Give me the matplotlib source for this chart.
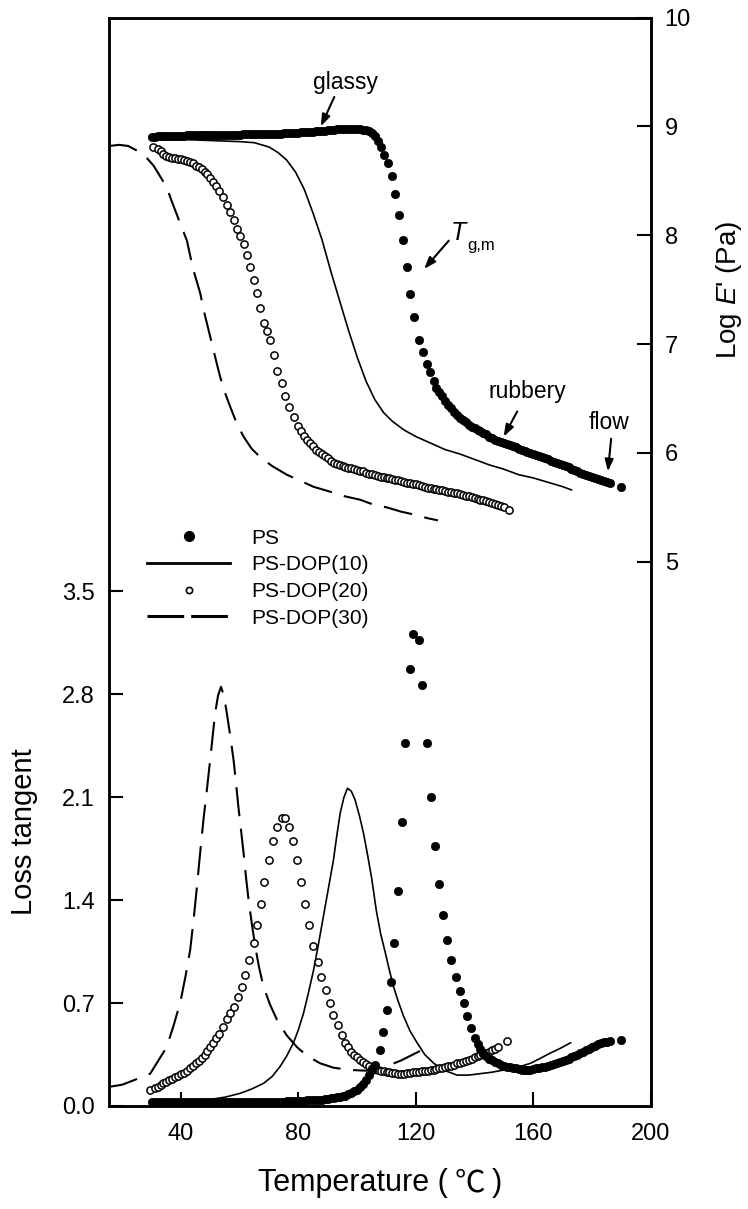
import matplotlib
matplotlib.use('Agg')
import matplotlib.pyplot as plt
from matplotlib.lines import Line2D
from matplotlib.offsetbox import TextArea, HPacker, AnchoredOffsetbox

plt.rcParams['font.family'] = ['Liberation Sans', 'Noto Sans CJK KR', 'DejaVu Sans']
plt.rcParams['mathtext.fontset'] = 'custom'
plt.rcParams['mathtext.rm'] = 'Liberation Sans'
plt.rcParams['mathtext.it'] = 'Liberation Sans:italic'

# ---- storage modulus, log E' (Pa), right axis ----
ps_T_E = [30, 31, 32, 33, 34, 35, 36, 37, 38, 39, 40, 41, 42, 43, 44, 45, 46, 47, 48, 49,
          50, 51, 52, 53, 54, 55, 56, 57, 58, 59, 60, 61, 62, 63, 64, 65, 66, 67, 68, 69,
          70, 71, 72, 73, 74, 75, 76, 77, 78, 79, 80, 81, 82, 83, 84, 85, 86, 87, 88, 89,
          90, 91, 92, 93, 94, 95, 96, 97, 98, 99, 100, 101, 102, 103, 104,
          105, 106, 107, 108, 109,
          110.4, 111.7, 113.0, 114.3, 115.5, 116.9, 118.1, 119.2, 120.9, 122.4, 123.8,
          124.8, 126, 127,
          128, 129, 130, 131, 132, 133, 134, 135, 136, 137, 138, 139, 140, 141, 142, 143,
          144, 145, 146, 147, 148, 149, 150, 151, 152, 153, 154, 155, 156, 157, 158, 159,
          160, 161, 162, 163, 164, 165, 166, 167, 168, 169, 170, 171, 172, 173, 174, 175,
          176, 177, 178, 179, 180, 181, 182, 183, 184, 185, 186, 189.9]
ps_E = [8.90, 8.90, 8.91, 8.91, 8.91, 8.91, 8.91, 8.91, 8.91, 8.91, 8.91, 8.91, 8.92, 8.92,
        8.92, 8.92, 8.92, 8.92, 8.92, 8.92, 8.92, 8.92, 8.92, 8.92, 8.92, 8.92, 8.92, 8.92,
        8.92, 8.92, 8.92, 8.93, 8.93, 8.93, 8.93, 8.93, 8.93, 8.93, 8.93, 8.93, 8.93, 8.93,
        8.93, 8.93, 8.93, 8.94, 8.94, 8.94, 8.94, 8.94, 8.94, 8.95, 8.95, 8.95, 8.95, 8.95,
        8.96, 8.96, 8.96, 8.96, 8.97, 8.97, 8.97, 8.98, 8.98, 8.98, 8.98, 8.98, 8.98, 8.98,
        8.98, 8.98, 8.97, 8.97, 8.96,
        8.94, 8.91, 8.87, 8.81, 8.74,
        8.66, 8.54, 8.38, 8.19, 7.96, 7.71, 7.46, 7.25, 7.04, 6.93, 6.82,
        6.74, 6.66, 6.60,
        6.56, 6.52, 6.48, 6.44, 6.41, 6.38, 6.35, 6.32, 6.30, 6.28, 6.26, 6.24, 6.23, 6.21,
        6.20, 6.18, 6.17, 6.15, 6.14, 6.12, 6.11, 6.10, 6.09, 6.08, 6.07, 6.06, 6.05, 6.04,
        6.03, 6.02, 6.01, 6.00, 5.99, 5.98, 5.97, 5.96, 5.95, 5.94, 5.93, 5.92, 5.91, 5.90,
        5.89, 5.88, 5.87, 5.85, 5.84, 5.83, 5.82, 5.81, 5.80, 5.79, 5.78, 5.77, 5.76, 5.75,
        5.74, 5.73, 5.72, 5.69]

d10_T_E = [30, 40, 50, 60, 65, 70, 73, 76, 79, 82, 85, 88, 91, 94, 97, 100, 103, 106, 109,
           112, 116, 120, 125, 130, 135, 140, 145, 150, 155, 160, 165, 170, 173]
d10_E = [8.88, 8.88, 8.87, 8.86, 8.85, 8.81, 8.76, 8.69, 8.58, 8.42, 8.20, 7.96, 7.67, 7.40,
         7.13, 6.88, 6.66, 6.49, 6.37, 6.29, 6.21, 6.15, 6.09, 6.03, 5.99, 5.94, 5.89, 5.85,
         5.80, 5.77, 5.73, 5.69, 5.66]

d20_T_E = [30.4, 32, 33, 34, 35, 36, 37, 38, 39, 40, 41, 42, 43, 44, 45, 46, 47, 48, 49, 50,
           51, 52, 53, 54.4, 55.6, 56.8, 57.9, 59.1, 60.2, 61.3, 62.4, 63.6, 64.7, 65.8, 66.9,
           68.1, 69.2, 70.4, 71.5, 72.7, 74.3, 75.4, 76.7, 78.4, 80, 81, 82, 83, 84, 85,
           86, 87, 88, 89, 90, 91, 92, 93, 94, 95, 96, 97, 98, 99, 100, 101, 102, 103, 104,
           105, 106, 107, 108, 109, 110, 111, 112, 113, 114, 115, 116, 117, 118, 119, 120,
           121, 122, 123, 124, 125, 126, 127, 128, 129, 130, 131, 132, 133, 134, 135, 136,
           137, 138, 139, 140, 141, 142, 143, 144, 145, 146, 147, 148, 149, 150, 151.6]
d20_E = [8.81, 8.79, 8.77, 8.75, 8.73, 8.72, 8.71, 8.71, 8.70, 8.70, 8.69, 8.68, 8.67, 8.66,
         8.64, 8.63, 8.61, 8.58, 8.56, 8.53, 8.49, 8.45, 8.41,
         8.35, 8.28, 8.21, 8.14, 8.06, 7.99, 7.92, 7.82, 7.71, 7.59, 7.47, 7.33, 7.19, 7.12,
         7.04, 6.90, 6.75, 6.64, 6.52, 6.42, 6.33,
         6.25, 6.20, 6.16, 6.12, 6.09, 6.06,
         6.03, 6.01, 5.99, 5.97, 5.95, 5.93, 5.91, 5.90, 5.89, 5.88, 5.87, 5.865, 5.86, 5.85,
         5.84, 5.835, 5.83, 5.82, 5.81, 5.805, 5.80, 5.79, 5.78, 5.775, 5.77, 5.765, 5.76,
         5.755, 5.75, 5.74, 5.73, 5.725, 5.72, 5.715, 5.71, 5.705, 5.70, 5.69, 5.68, 5.675,
         5.67, 5.665, 5.66, 5.655, 5.65, 5.645, 5.64, 5.635, 5.63, 5.62, 5.61, 5.605, 5.60,
         5.595, 5.59, 5.58, 5.57, 5.565, 5.56, 5.55, 5.54, 5.53, 5.52, 5.51, 5.50, 5.48]

d30_T_E = [15.4, 19, 22, 25.5, 28, 30.6, 32, 35.1, 37, 39.7, 42, 44, 46.5, 48, 50, 52, 53.3,
           55, 56.8, 59, 61.3, 64, 67, 71, 76, 81, 85, 90, 96, 101, 105, 110, 115, 120, 124,
           127.5]
d30_E = [8.82, 8.83, 8.82, 8.77, 8.72, 8.64, 8.58, 8.44, 8.30, 8.11, 7.95, 7.70, 7.47, 7.28,
         7.06, 6.84, 6.70, 6.55, 6.42, 6.27, 6.15, 6.04, 5.96, 5.88, 5.80, 5.74, 5.69, 5.65,
         5.60, 5.57, 5.53, 5.50, 5.46, 5.43, 5.40, 5.38]

# ---- loss tangent, left axis ----
ps_T_tan = [30, 31, 32, 33, 34, 35, 36, 37, 38, 39, 40, 41, 42, 43, 44, 45, 46, 47, 48, 49,
            50, 51, 52, 53, 54, 55, 56, 57, 58, 59, 60, 61, 62, 63, 64, 65, 66, 67, 68, 69,
            70, 71, 72, 73, 74, 75, 76, 77, 78, 79, 80, 81, 82, 83, 84, 85, 86, 87, 88, 89,
            90, 91, 92, 93, 94, 95, 96, 97, 98, 99, 100, 101, 102, 103, 104,
            105, 106,
            107.9, 108.8, 110.2, 111.5, 112.7, 113.9, 115.3, 116.4, 117.9, 119.0, 120.9,
            122.1, 123.8, 125.2, 126.6, 128.0, 129.3, 130.6, 132.1, 133.8, 134.9, 136.3,
            137.4, 138.6,
            140, 141, 142, 143, 144, 145, 146, 147, 148, 149, 150, 151, 152, 153, 154, 155,
            156, 157, 158, 159, 160, 161, 162, 163, 164, 165, 166, 167, 168, 169, 170, 171,
            172, 173, 174, 175, 176, 177, 178, 179, 180, 181, 182, 183, 184, 185, 186, 189.7]
ps_tan = [0.025, 0.025, 0.025, 0.025, 0.025, 0.025, 0.025, 0.025, 0.025, 0.025, 0.025, 0.025,
          0.025, 0.025, 0.025, 0.025, 0.025, 0.025, 0.025, 0.025, 0.025, 0.025, 0.025, 0.025,
          0.028, 0.028, 0.028, 0.028, 0.028, 0.028, 0.028, 0.028, 0.028, 0.028, 0.028, 0.028,
          0.03, 0.03, 0.03, 0.03, 0.03, 0.03, 0.03, 0.03, 0.03, 0.03,
          0.035, 0.035, 0.035, 0.035, 0.035, 0.035, 0.035,
          0.04, 0.04, 0.04, 0.04, 0.04, 0.04, 0.045,
          0.05, 0.052, 0.055, 0.058, 0.06, 0.065, 0.07, 0.08, 0.09, 0.10, 0.11, 0.13, 0.15,
          0.18, 0.21,
          0.245, 0.28,
          0.38, 0.50, 0.65, 0.845, 1.11, 1.46, 1.93, 2.47, 2.97, 3.21, 3.17,
          2.86, 2.47, 2.10, 1.77, 1.51, 1.30, 1.13, 0.99, 0.875, 0.78, 0.70,
          0.61, 0.53,
          0.46, 0.42, 0.39, 0.36, 0.34, 0.32, 0.31, 0.30, 0.29, 0.282, 0.275, 0.268, 0.262,
          0.258, 0.255, 0.25, 0.248, 0.246, 0.245, 0.247, 0.25, 0.255, 0.26, 0.264, 0.268,
          0.274, 0.28, 0.285, 0.29, 0.297, 0.305, 0.312, 0.32, 0.33, 0.34, 0.35, 0.36, 0.37,
          0.38, 0.39, 0.40, 0.41, 0.42, 0.428, 0.435, 0.438, 0.44, 0.45]

d10_T_tan = [30, 40, 50, 55, 60.1, 64, 68.1, 71, 73.8, 76, 78.3, 80, 81.7, 83.4, 85.1, 86.8,
             88.5, 90.2, 91.9, 93, 94.2, 95.5, 96.7, 98, 99.3, 100.8, 102.2, 103.6, 105,
             106.5, 108, 109.6, 111, 112.4, 114, 115.8, 118, 120.4, 123, 126.1, 130, 134,
             138, 142, 146, 150, 155, 159, 162, 165.8, 169, 172.7]
d10_tan = [0.02, 0.03, 0.045, 0.06, 0.086, 0.115, 0.154, 0.20, 0.27, 0.34, 0.43, 0.52, 0.63,
           0.77, 0.92, 1.10, 1.29, 1.48, 1.67, 1.83, 1.99, 2.10, 2.16, 2.14, 2.08, 1.97,
           1.85, 1.70, 1.54, 1.33, 1.17, 1.04, 0.92, 0.81, 0.71, 0.61, 0.51, 0.43, 0.35,
           0.29, 0.24, 0.21, 0.21, 0.22, 0.23, 0.245, 0.265, 0.29, 0.32, 0.36, 0.39, 0.43]

d20_T_tan = [29.5, 31, 32, 33, 34, 35, 36, 37, 38, 39, 40, 41, 42, 43, 44, 45, 46, 47, 48,
             49, 50, 51, 52, 53,
             54.4, 55.6, 56.8, 57.9, 59.3, 60.7, 61.8, 63.2, 64.7, 66.0, 67.2, 68.4, 69.8,
             71.2, 72.7, 74.4, 75.5, 76.9, 78.1, 79.5, 80.8, 82.3, 83.7, 85.1, 86.5, 87.6,
             89.4, 90.6, 91.9, 93.3, 94.8,
             96, 97, 98, 99, 100, 101, 102, 103, 104, 105, 106, 107,
             108, 109, 110, 111, 112, 113, 114, 115, 116, 117, 118, 119, 120, 121, 122, 123,
             124, 125, 126, 127, 128, 129, 130, 131, 132, 133, 134, 135, 136, 137, 138, 139,
             140, 141, 142, 143, 144, 145, 146, 147, 148, 151.1]
d20_tan = [0.11, 0.12, 0.13, 0.14, 0.155, 0.165, 0.175, 0.185, 0.195, 0.205, 0.215, 0.225,
           0.24, 0.255, 0.27, 0.29, 0.305, 0.325, 0.35, 0.375, 0.40, 0.43, 0.46, 0.49,
           0.54, 0.59, 0.63, 0.675, 0.74, 0.81, 0.89, 0.99, 1.11, 1.23, 1.37, 1.52, 1.67,
           1.80, 1.90, 1.96, 1.96, 1.90, 1.80, 1.67, 1.52, 1.37, 1.23, 1.09, 0.98, 0.88,
           0.79, 0.70, 0.62, 0.55, 0.48,
           0.43, 0.40, 0.37, 0.35, 0.33, 0.31, 0.30, 0.285, 0.27, 0.26, 0.25, 0.245,
           0.24, 0.235, 0.23, 0.228, 0.225, 0.222, 0.22, 0.22, 0.22, 0.222, 0.225, 0.228,
           0.23, 0.232, 0.235, 0.238, 0.24, 0.243, 0.245, 0.25, 0.255, 0.26, 0.265, 0.27,
           0.275, 0.282, 0.29, 0.295, 0.30, 0.307, 0.315, 0.322, 0.33, 0.337, 0.345, 0.352,
           0.36, 0.37, 0.38, 0.39, 0.40, 0.44]

d30_T_tan = [15.5, 20, 23.9, 27, 29.5, 32, 35.1, 37.5, 39.7, 41.5, 43.1, 44.3, 45.4, 46.5,
             47.6, 48.8, 49.9, 50.8, 51.6, 52.6, 53.6, 54.6, 55.6, 56.8, 57.9, 58.7, 59.5,
             60.4, 61.3, 62.1, 63.0, 64.1, 65.3, 66.6, 68.1, 70.3, 72.7, 76, 79.5, 83, 87.4,
             92, 97.6, 103, 106, 110, 115, 120, 124]
d30_tan = [0.13, 0.145, 0.175, 0.20, 0.22, 0.30, 0.40, 0.55, 0.70, 0.88, 1.06, 1.27, 1.49,
           1.72, 1.94, 2.15, 2.35, 2.52, 2.67, 2.79, 2.85, 2.79, 2.67, 2.51, 2.35, 2.20,
           2.04, 1.88, 1.72, 1.56, 1.40, 1.24, 1.08, 0.94, 0.81, 0.69, 0.585, 0.48, 0.40,
           0.34, 0.29, 0.26, 0.245, 0.24, 0.25, 0.27, 0.31, 0.36, 0.40]

labels = ['PS', 'PS-DOP(10)', 'PS-DOP(20)', 'PS-DOP(30)']
tan_ticks = [0.0, 0.7, 1.4, 2.1, 2.8, 3.5]
E_ticks = [5, 6, 7, 8, 9, 10]
T_ticks = [40, 80, 120, 160, 200]

fig = plt.figure(figsize=(7.48, 12.09), dpi=100)
ax = fig.add_axes([0.1455, 0.0852, 0.7245, 0.9003])
ax2 = ax.twinx()

dash = (14, 6)
filled = dict(ls='none', marker='o', ms=6.0, mfc='k', mec='k', mew=0.5)
hollow = dict(ls='none', marker='o', ms=5.2, mfc='white', mec='k', mew=1.1)

# loss tangent
ax.plot(d30_T_tan, d30_tan, color='k', lw=1.5, dashes=dash)
ax.plot(d10_T_tan, d10_tan, color='k', lw=1.2)
ax.plot(d20_T_tan, d20_tan, **hollow)
ax.plot(ps_T_tan, ps_tan, **filled)

# storage modulus
ax2.plot(d30_T_E, d30_E, color='k', lw=1.5, dashes=dash)
ax2.plot(d10_T_E, d10_E, color='k', lw=1.2)
ax2.plot(d20_T_E, d20_E, **hollow)
ax2.plot(ps_T_E, ps_E, **filled)

ax.set_xlim(15.4, 200)
ax.set_ylim(0, 7.4)
ax2.set_ylim(0, 10)
ax.set_xticks(T_ticks)
ax.set_yticks(tan_ticks)
ax.set_yticklabels([f'{v:.1f}' for v in tan_ticks])
ax2.set_yticks(E_ticks)

for a in (ax, ax2):
    for s in a.spines.values():
        s.set_linewidth(1.8)
ax.tick_params(axis='both', direction='in', length=10, width=1.5, labelsize=17)
ax.tick_params(axis='y', pad=10)
ax.tick_params(axis='x', pad=12)
ax2.tick_params(axis='y', direction='in', length=10, width=1.5, labelsize=17, pad=10)

# x label: the degree sign is a full-width CJK glyph, as in the original
xl_parts = [TextArea('Temperature (', textprops=dict(fontsize=22, family='Liberation Sans')),
            TextArea('\u2103', textprops=dict(fontsize=22, family='Noto Sans CJK KR')),
            TextArea(')', textprops=dict(fontsize=22, family='Liberation Sans'))]
xl_box = HPacker(children=xl_parts, align='baseline', pad=0, sep=5)
ax.add_artist(AnchoredOffsetbox(loc='upper center', child=xl_box, pad=0, borderpad=0,
                                frameon=False, bbox_to_anchor=(0.5, -0.056),
                                bbox_transform=ax.transAxes))

ax.set_ylabel('Loss tangent', fontsize=21)
ax2.set_ylabel("Log $\\mathit{E}$' (Pa)", fontsize=20)
ax.yaxis.set_label_coords(-0.131, 0.252)
ax2.yaxis.set_label_coords(1.116, 0.75)

# annotations on the modulus curves
arrow = dict(arrowstyle='-|>,head_length=0.7,head_width=0.25', color='k', lw=1.5,
             shrinkA=0, shrinkB=0)
ax2.text(95.9, 9.40, 'glassy', fontsize=16.5, ha='center', va='center')
ax2.annotate('', xy=(87.6, 9.00), xytext=(92.2, 9.27), arrowprops=arrow)
ax2.text(131.8, 8.02, 'T', fontsize=18, style='italic', ha='left', va='center')
ax2.annotate('g,m', xy=(131.8, 8.02), xytext=(12, -9), textcoords='offset points',
             fontsize=12, ha='left', va='center')
ax2.annotate('', xy=(122.8, 7.69), xytext=(131.2, 7.95), arrowprops=arrow)
ax2.text(157.9, 6.56, 'rubbery', fontsize=16.5, ha='center', va='center')
ax2.annotate('', xy=(149.9, 6.15), xytext=(154.5, 6.38), arrowprops=arrow)
ax2.text(185.7, 6.28, 'flow', fontsize=16.5, ha='center', va='center')
ax2.annotate('', xy=(185.4, 5.83), xytext=(186.5, 6.13), arrowprops=arrow)

handles = [
    Line2D([], [], ls='none', marker='o', ms=7, mfc='k', mec='k'),
    Line2D([], [], color='k', lw=2),
    Line2D([], [], ls='none', marker='o', ms=4.5, mfc='white', mec='k', mew=1.2),
    Line2D([], [], color='k', lw=2.2, dashes=(12, 2.3)),
]
ax2.legend(handles, labels, loc='center left', bbox_to_anchor=(0.0705, 0.485),
           frameon=False, fontsize=15, handlelength=4.0, handletextpad=1.0,
           labelspacing=0.37, borderpad=0, borderaxespad=0)

fig.savefig('out.png', dpi=100)
